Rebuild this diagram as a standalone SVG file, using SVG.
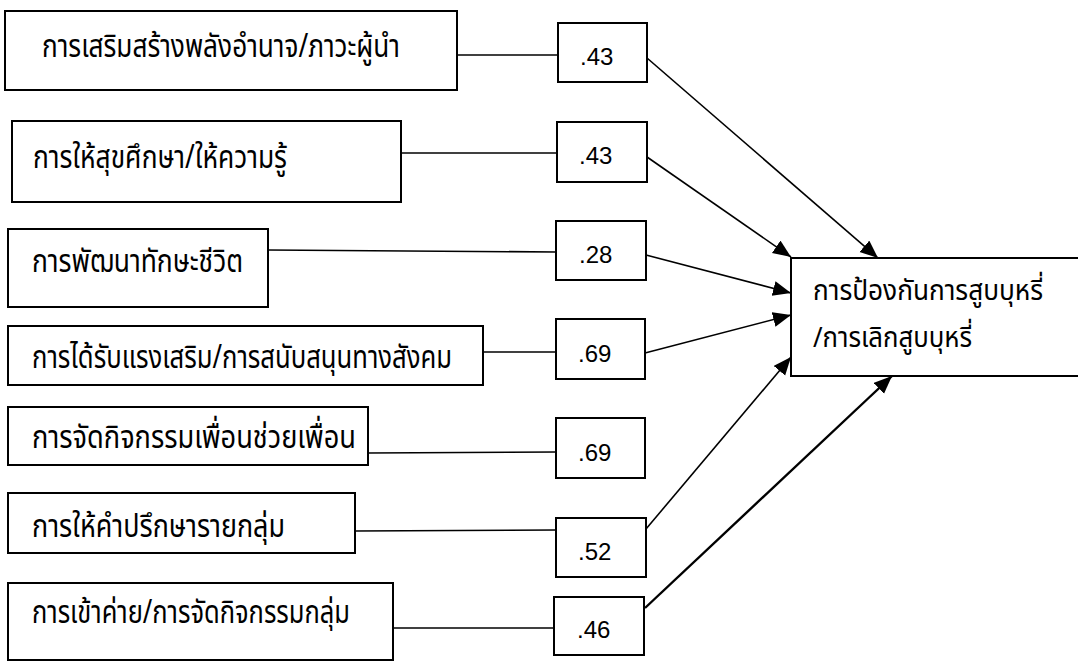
<svg xmlns="http://www.w3.org/2000/svg" width="1078" height="662" viewBox="0 0 1078 662">
<style>
.box{fill:#fff;stroke:#000;stroke-width:2}
.th{font-family:'Noto Sans Thai','Noto Sans Thai UI','Noto Sans','DejaVu Sans',sans-serif;font-size:32px;fill:#000}
.tt{font-size:28px}
.num{font-family:'Liberation Sans',Arial,sans-serif;font-size:24px;fill:#000}
.ln{stroke:#000;stroke-width:1.6;fill:none}
.ar{stroke:#000;stroke-width:1.6;fill:none;marker-end:url(#ah)}
</style>
<defs>
<marker id="ah" markerUnits="userSpaceOnUse" markerWidth="20" markerHeight="16" refX="18" refY="7.5" orient="auto">
<path d="M0,0 L18,7.5 L0,15 z" fill="#000"/>
</marker>
</defs>
<rect width="1078" height="662" fill="#fff"/>
<g id="connectors">
<line class="ln" x1="457" y1="55" x2="558" y2="55"/>
<line class="ln" x1="401" y1="153" x2="557" y2="153"/>
<line class="ln" x1="268" y1="250" x2="556" y2="252"/>
<line class="ln" x1="483" y1="352" x2="556" y2="352"/>
<line class="ln" x1="368" y1="453" x2="556" y2="452"/>
<line class="ln" x1="355" y1="531" x2="556" y2="530"/>
<line class="ln" x1="393" y1="628" x2="554" y2="628"/>
<line class="ar" x1="647" y1="58" x2="878" y2="258"/>
<line class="ar" x1="647" y1="157" x2="791" y2="257"/>
<line class="ar" x1="646" y1="255" x2="791" y2="293"/>
<line class="ar" x1="645" y1="353" x2="791" y2="315"/>
<line class="ar" x1="646" y1="529" x2="791" y2="357"/>
<line class="ar" x1="645" y1="608" x2="892" y2="376" style="stroke-width:2.4"/>
</g>
<g id="n1"><rect class="box" x="5" y="11" width="452" height="79"/><text class="th" x="42" y="57" textLength="358" lengthAdjust="spacingAndGlyphs">การเสริมสร้างพลังอำนาจ/ภาวะผู้นำ</text></g>
<g id="n2"><rect class="box" x="12" y="121" width="389" height="81"/><text class="th" x="33" y="168" textLength="254" lengthAdjust="spacingAndGlyphs">การให้สุขศึกษา/ให้ความรู้</text></g>
<g id="n3"><rect class="box" x="8" y="229" width="260" height="78"/><text class="th" x="32" y="272" textLength="211" lengthAdjust="spacingAndGlyphs">การพัฒนาทักษะชีวิต</text></g>
<g id="n4"><rect class="box" x="8" y="326" width="475" height="59"/><text class="th" x="32" y="368" textLength="420" lengthAdjust="spacingAndGlyphs">การได้รับแรงเสริม/การสนับสนุนทางสังคม</text></g>
<g id="n5"><rect class="box" x="8" y="407" width="360" height="58"/><text class="th" x="32" y="448" textLength="324" lengthAdjust="spacingAndGlyphs">การจัดกิจกรรมเพื่อนช่วยเพื่อน</text></g>
<g id="n6"><rect class="box" x="8" y="493" width="347" height="60"/><text class="th" x="32" y="537" textLength="253" lengthAdjust="spacingAndGlyphs">การให้คำปรึกษารายกลุ่ม</text></g>
<g id="n7"><rect class="box" x="8" y="583" width="385" height="77"/><text class="th" x="32" y="623" textLength="318" lengthAdjust="spacingAndGlyphs">การเข้าค่าย/การจัดกิจกรรมกลุ่ม</text></g>
<g id="v1"><rect class="box" x="558" y="23" width="89" height="59"/><text class="num" x="580" y="65">.43</text></g>
<g id="v2"><rect class="box" x="557" y="122" width="90" height="60"/><text class="num" x="579" y="164">.43</text></g>
<g id="v3"><rect class="box" x="556" y="221" width="90" height="59"/><text class="num" x="579" y="263">.28</text></g>
<g id="v4"><rect class="box" x="556" y="319" width="89" height="60"/><text class="num" x="578" y="362">.69</text></g>
<g id="v5"><rect class="box" x="556" y="418" width="89" height="60"/><text class="num" x="578" y="461">.69</text></g>
<g id="v6"><rect class="box" x="556" y="518" width="90" height="59"/><text class="num" x="578" y="560">.52</text></g>
<g id="v7"><rect class="box" x="554" y="597" width="90" height="58"/><text class="num" x="577" y="638">.46</text></g>
<g id="target"><rect x="791" y="258" width="287" height="118" fill="#fff"/><path d="M1078,258 H791 V376 H1078" fill="none" stroke="#000" stroke-width="2"/><text class="th tt" x="813" y="300" textLength="230" lengthAdjust="spacingAndGlyphs">การป้องกันการสูบบุหรี่</text><text class="th tt" x="813" y="347" textLength="159" lengthAdjust="spacingAndGlyphs">/การเลิกสูบบุหรี่</text></g>
</svg>
